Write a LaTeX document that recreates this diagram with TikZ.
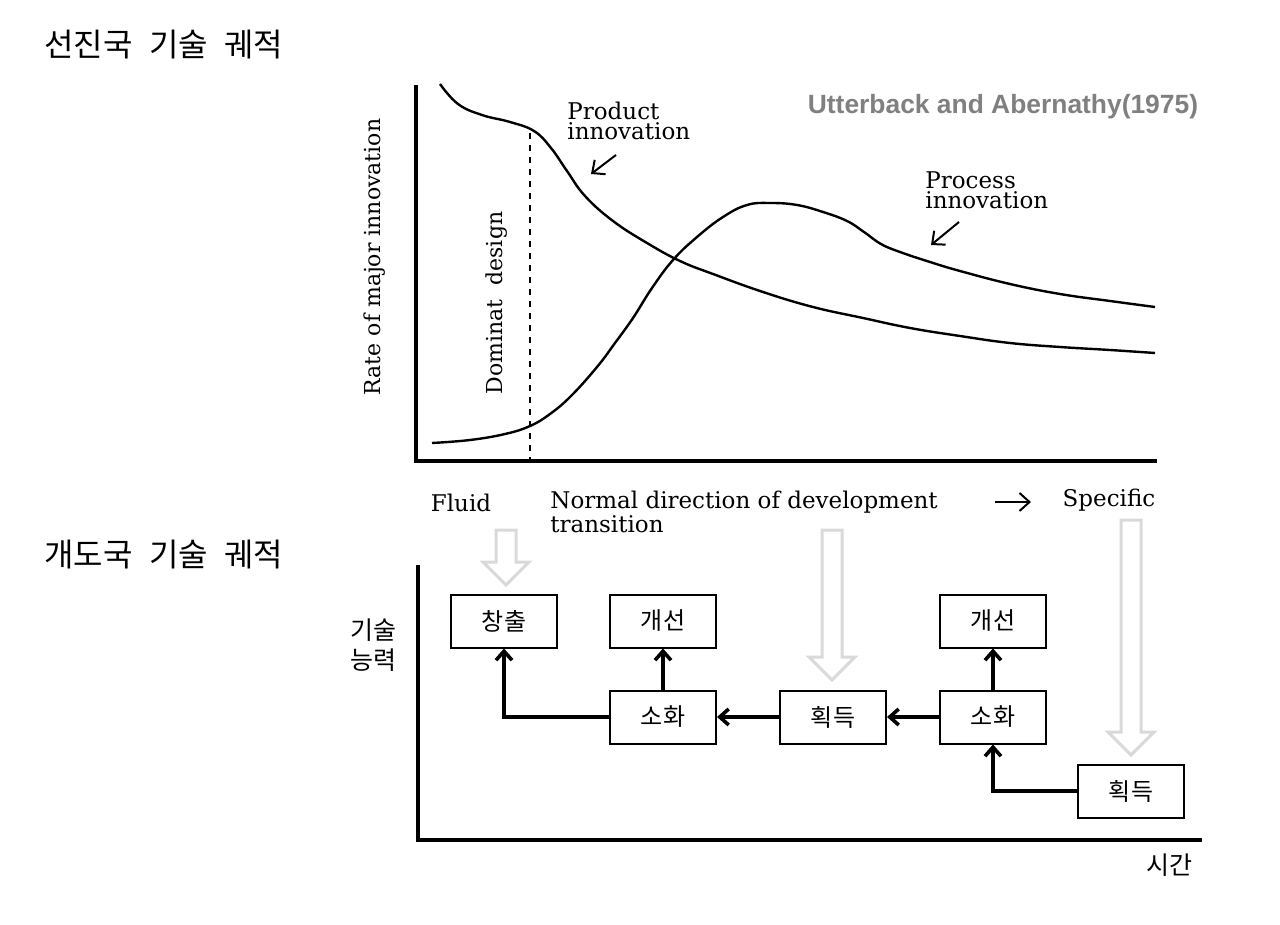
\documentclass[tikz,border=0pt]{standalone}
\usepackage{fontspec}
\setmainfont{DejaVu Serif}
\newfontfamily\kr{Noto Sans CJK KR}
\newfontfamily\krtitle{Noto Sans CJK KR}[WordSpace=2.3]
\newfontfamily\citefont{Liberation Sans}
\usetikzlibrary{positioning,calc,arrows.meta}
\tikzstyle{every picture}=[x=0.5pt,y=-0.5pt]
\tikzstyle{box}=[draw=black,line width=1pt,fill=white,minimum width=53pt,minimum height=26.5pt,inner sep=0pt,font=\kr\fontsize{12}{12}\selectfont]
\tikzstyle{flow}=[-{Straight Barb[length=4.5pt,width=8pt]},line width=1.8pt]
\tikzstyle{axis}=[line width=2pt]
\tikzstyle{curve}=[line width=1.2pt,line join=round]
\tikzstyle{pointer}=[-{Straight Barb[length=5pt,width=9pt]},line width=1pt]
\tikzstyle{hollow}=[draw=black!15,line width=1.5pt,line join=miter]
\tikzstyle{chartlabel}=[inner sep=0pt,align=left,font=\fontsize{11.5}{10}\selectfont]
\tikzstyle{title}=[inner sep=0pt,anchor=west,font=\krtitle\fontsize{16}{16}\selectfont]
\newcommand{\hollowarrow}[3]{%
	\draw[hollow] (#1-10,#2) -- (#1+10,#2) -- (#1+10,#3-23) -- (#1+23,#3-23)
		-- (#1,#3) -- (#1-23,#3-23) -- (#1-10,#3-23) -- cycle;}
\begin{document}
\begin{tikzpicture}
	\useasboundingbox (0,0) rectangle (1280,925);
	% titles
	\node[title] (topTitle) at (44,45) {선진국 기술 궤적};
	\node[title] (bottomTitle) at (44,555) {개도국 기술 궤적};
	% upper chart
	\draw[axis] (416,85) -- (416,461) -- (1157,461);
	\draw[curve] plot[smooth,tension=0.7] coordinates {(440,84) (458,104) (482,115) (510,122) (534,131) (551,148) (567,171) (585,196) (613,221) (647,243) (680,261) (713,274) (763,292) (813,307) (863,318) (910,328) (960,336) (1010,343) (1060,347) (1110,350) (1155,353)};
	\draw[curve] plot[smooth,tension=0.7] coordinates {(432,443) (470,440) (505,434) (530,426) (550,414) (571,396) (597,367) (615,343) (633,318) (652,288) (673,260) (697,237) (723,217) (747,205) (770,203) (797,205) (823,212) (847,221) (864,232) (881,244) (900,252) (930,262) (960,271) (1010,284) (1060,294) (1110,301) (1155,307)};
	\draw[curve,dashed] (530,133) -- (530,461);
	\node[chartlabel,font=\fontsize{11}{10}\selectfont,rotate=90] (rateLabel) at (375,257) {Rate of major innovation};
	\node[chartlabel,font=\fontsize{11}{10}\selectfont,rotate=90] (domLabel) at (497,303) {Dominat\ \ design};
	\node[chartlabel,anchor=west] (prodLabel) at (567,121) {Product\\innovation};
	\node[chartlabel,anchor=west] (procLabel) at (925,190) {Process\\innovation};
	\coordinate (prodTail) at (616,155);
	\coordinate (prodTip) at (591,174);
	\coordinate (procTail) at (959,222);
	\coordinate (procTip) at (931,245);
	\draw[pointer] (prodTail) -- (prodTip);
	\draw[pointer] (procTail) -- (procTip);
	\node[inner sep=0pt,font=\citefont\bfseries\fontsize{13.2}{14}\selectfont,text=black!50] (cite) at (1003,107) {Utterback and Abernathy(1975)};
	% stage labels
	\node[chartlabel] (fluid) at (461,503) {Fluid};
	\node[chartlabel,anchor=west] (normal) at (550,512) {Normal direction of development\\transition};
	\node[chartlabel] (specific) at (1109,500) {Specific};
	\coordinate (dirTail) at (995,502);
	\coordinate (dirTip) at (1031,502);
	\draw[pointer] (dirTail) -- (dirTip);
	% hollow arrows
	\hollowarrow{506}{530}{585}
	\hollowarrow{832}{530}{680}
	\hollowarrow{1131}{520}{755}
	% lower chart
	\draw[axis] (418,565) -- (418,840) -- (1202,840);
	\node[inner sep=0pt,align=center,font=\kr\fontsize{12.5}{15}\selectfont] (ability) at (373,645) {기술\\능력};
	\node[inner sep=0pt,font=\kr\fontsize{12.5}{12}\selectfont] (time) at (1169,865) {시간};
	\node[box] (create) at (504,621) {창출};
	\node[box] (improveA) at (663,621) {개선};
	\node[box] (absorbA) at (663,717) {소화};
	\node[box] (acquireA) at (833,717) {획득};
	\node[box] (absorbB) at (993,717) {소화};
	\node[box] (improveB) at (993,621) {개선};
	\node[box] (acquireB) at (1131,791) {획득};
	\draw[flow] (absorbA.west) -| (create.south);
	\draw[flow] (absorbA) -- (improveA);
	\draw[flow] (acquireA) -- (absorbA);
	\draw[flow] (absorbB) -- (acquireA);
	\draw[flow] (absorbB) -- (improveB);
	\draw[flow] (acquireB.west) -| (absorbB.south);
\end{tikzpicture}
\end{document}
